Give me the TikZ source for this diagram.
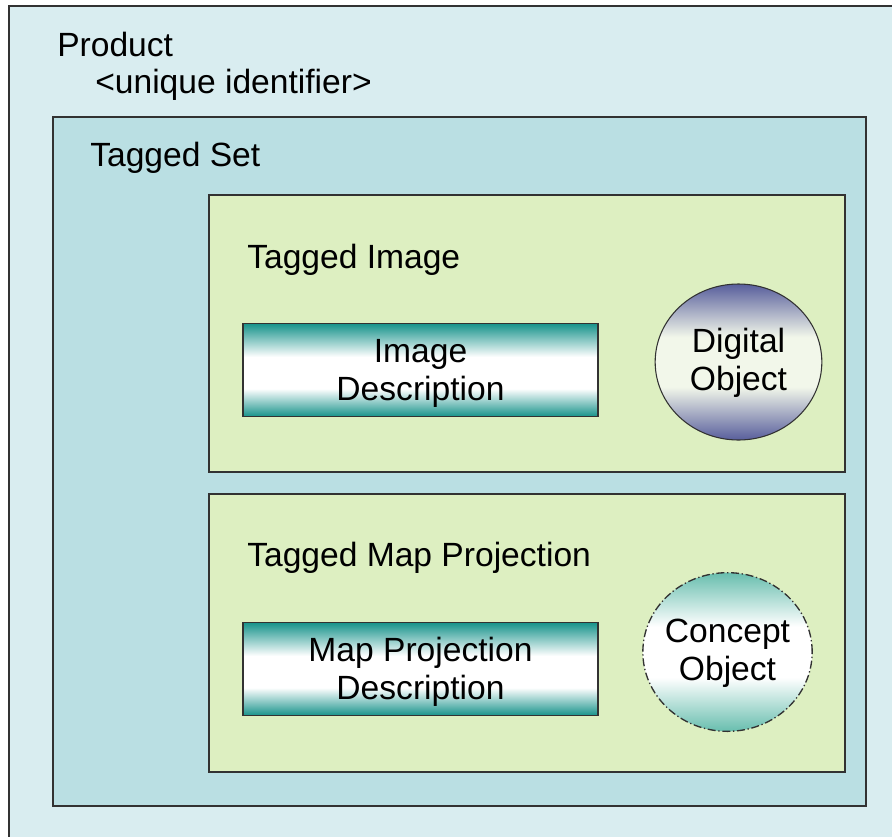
\documentclass[tikz,border=0pt]{standalone}
\usepackage{fontspec}
\setmainfont{Liberation Sans}
\usetikzlibrary{positioning}
\usetikzlibrary{shapes.geometric}
\definecolor{product-blue}{RGB}{217, 237, 240}
\definecolor{set-blue}{RGB}{186, 223, 227}
\definecolor{tag-green}{RGB}{221, 239, 193}
\definecolor{desc-teal}{RGB}{22, 146, 138}
\definecolor{obj-blue}{RGB}{88, 94, 156}
\definecolor{obj-white}{RGB}{242, 247, 234}
\definecolor{concept-teal}{RGB}{104, 190, 174}
\definecolor{edge-gray}{RGB}{50, 50, 50}
\pgfdeclareverticalshading{descshade}{100bp}{color(0bp)=(desc-teal); color(25bp)=(desc-teal); color(40bp)=(white); color(57bp)=(white); color(75bp)=(desc-teal); color(100bp)=(desc-teal)}
\pgfdeclareverticalshading{digitalshade}{100bp}{color(0bp)=(obj-blue); color(25bp)=(obj-blue); color(42bp)=(obj-white); color(58bp)=(obj-white); color(75bp)=(obj-blue); color(100bp)=(obj-blue)}
\pgfdeclareverticalshading{conceptshade}{100bp}{color(0bp)=(concept-teal); color(25bp)=(concept-teal); color(42bp)=(white); color(58bp)=(white); color(75bp)=(concept-teal); color(100bp)=(concept-teal)}
\tikzset{
  boxtext/.style={anchor=base west, inner sep=0pt, font=\fontsize{25.2}{28.5}\selectfont},
  descbox/.style={draw=edge-gray, line width=1.2pt, shading=descshade, minimum width=266pt, minimum height=70pt, inner sep=0pt, align=center, font=\fontsize{25.2}{28.5}\selectfont},
  objbox/.style={ellipse, draw=edge-gray, line width=0.8pt, minimum width=125pt, minimum height=117pt, inner sep=0pt, align=center, font=\fontsize{25.2}{28.5}\selectfont}
}
\begin{document}
\begin{tikzpicture}[x=0.75pt, y=-0.75pt]
\useasboundingbox (0,0) rectangle (892,836);
\filldraw[fill=product-blue, draw=edge-gray, line width=1.1pt] (9,6) rectangle (905,850);
\filldraw[fill=set-blue, draw=edge-gray, line width=1.4pt] (53,117) rectangle (866,806);
\filldraw[fill=tag-green, draw=edge-gray, line width=1.4pt] (209,195) rectangle (845,472);
\filldraw[fill=tag-green, draw=edge-gray, line width=1.4pt] (209,494) rectangle (845,772);
\node[boxtext] (product) at (57,56) {Product};
\node[boxtext] (uid) at (95,93) {<unique identifier>};
\node[boxtext] (set) at (90,166) {Tagged Set};
\node[boxtext] (image) at (247,268) {Tagged Image};
\node[boxtext] (mapproj) at (247,566) {Tagged Map Projection};
\node[descbox] (imagedesc) at (420.5,370) {\rule{0pt}{22pt}Image\\Description};
\node[descbox] (mapdesc) at (420.5,669) {\rule{0pt}{22pt}Map Projection\\Description};
\node[objbox, shading=digitalshade] (digital) at (738.5,362) {\rule{0pt}{20pt}Digital\\Object};
\node[objbox, dash pattern=on 6pt off 2pt on 1pt off 2pt, line width=1pt, shading=conceptshade, inner xsep=-7pt, minimum width=127pt, minimum height=119pt] (concept) at (727.5,652) {\rule{0pt}{20pt}Concept\\Object};
\end{tikzpicture}
\end{document}
